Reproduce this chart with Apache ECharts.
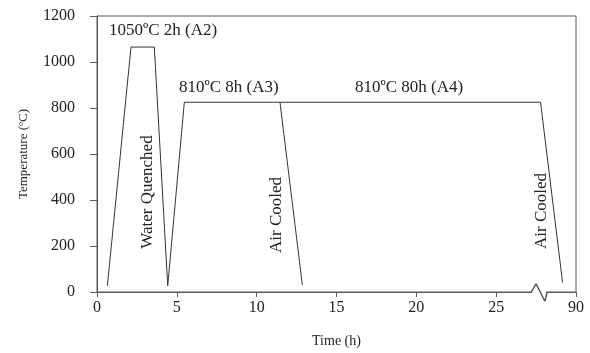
<!DOCTYPE html>
<html>
<head>
<meta charset="utf-8">
<script src="https://cdn.jsdelivr.net/npm/echarts@6/dist/echarts.min.js"></script>
<style>
  html, body { margin: 0; padding: 0; background: #fff; }
  #chart { width: 590px; height: 353px; }
</style>
</head>
<body>
<div id="chart"></div>
<script>
// time axis is drawn 0..30, last tick stands for 90 h (broken axis)
const xTicks = [0, 5, 10, 15, 20, 25, 30];
const xTickLabels = ['0', '5', '10', '15', '20', '25', '90'];

// A2 : 1050 C 2h, water quenched
const a2Time = [0.65, 2.13, 3.59, 4.43];
const a2Temp = [27, 1065, 1065, 27];
// A3 : 810 C 8h, air cooled
const a3Time = [4.43, 5.47, 11.46, 12.86];
const a3Temp = [27, 825, 825, 31];
// A4 : 810 C 80h, air cooled
const a4Time = [11.46, 27.78, 29.16];
const a4Temp = [825, 825, 41];
// break mark on the time axis
const breakTime = [27.2, 27.5, 28.05, 28.2];
const breakTemp = [0, 36, -40, 0];

const zip = (xs, ys) => xs.map((x, i) => [x, ys[i]]);

const chart = echarts.init(document.getElementById('chart'));
const font = 'Liberation Serif, Times New Roman, serif';
const ink = '#222';
const lineStyle = { color: '#333', width: 1 };

function note(text, x, y, rotated) {
  return {
    type: 'text', x: x, y: y, rotation: rotated ? Math.PI / 2 : 0,
    style: {
      text: text, font: '17px ' + font, fill: ink,
      align: rotated ? 'center' : 'left', verticalAlign: 'middle'
    }
  };
}

const option = {
  animation: false,
  textStyle: { fontFamily: font },
  grid: {
    left: 97, right: 14, top: 16, bottom: 55,
    show: true, borderColor: '#595959', borderWidth: 1
  },
  xAxis: {
    type: 'value', min: 0, max: 30, interval: 5,
    name: 'Time (h)', nameLocation: 'middle', nameGap: 42,
    nameTextStyle: { fontFamily: font, fontSize: 14, color: ink },
    axisLine: { lineStyle: { color: '#595959' } },
    axisTick: { show: true, length: 5, lineStyle: { color: '#595959' } },
    axisLabel: {
      margin: 8, fontFamily: font, fontSize: 16, color: ink,
      formatter: v => xTickLabels[xTicks.indexOf(v)]
    },
    splitLine: { show: false }
  },
  yAxis: {
    type: 'value', min: 0, max: 1200, interval: 200,
    name: 'Temperature (ºC)', nameLocation: 'middle', nameGap: 67,
    nameTextStyle: { fontFamily: font, fontSize: 13, color: ink },
    axisLine: { show: true, lineStyle: { color: '#595959' } },
    axisTick: { show: true, length: 7, lineStyle: { color: '#595959' } },
    axisLabel: { margin: 22, fontFamily: font, fontSize: 16, color: ink, formatter: v => String(v) },
    splitLine: { show: false }
  },
  series: [
    { type: 'line', data: zip(a2Time, a2Temp), symbol: 'none', lineStyle, z: 3 },
    { type: 'line', data: zip(a3Time, a3Temp), symbol: 'none', lineStyle, z: 3 },
    { type: 'line', data: zip(a4Time, a4Temp), symbol: 'none', lineStyle, z: 3 },
    {
      type: 'line', data: [[breakTime[0] + 0.05, 0], [breakTime[3] - 0.05, 0]], symbol: 'none',
      lineStyle: { color: '#fff', width: 3 }, clip: false, z: 1
    },
    {
      type: 'line', data: zip(breakTime, breakTemp), symbol: 'none',
      lineStyle: { color: '#444', width: 1.3 }, clip: false, z: 10
    }
  ],
  graphic: [
    note('1050ºC 2h (A2)', 109, 31, false),
    note('810ºC 8h (A3)', 179, 88, false),
    note('810ºC 80h (A4)', 355, 88, false),
    note('Water Quenched', 148, 192, true),
    note('Air Cooled', 277, 215, true),
    note('Air Cooled', 542, 211, true)
  ]
};

chart.setOption(option);
</script>
</body>
</html>
